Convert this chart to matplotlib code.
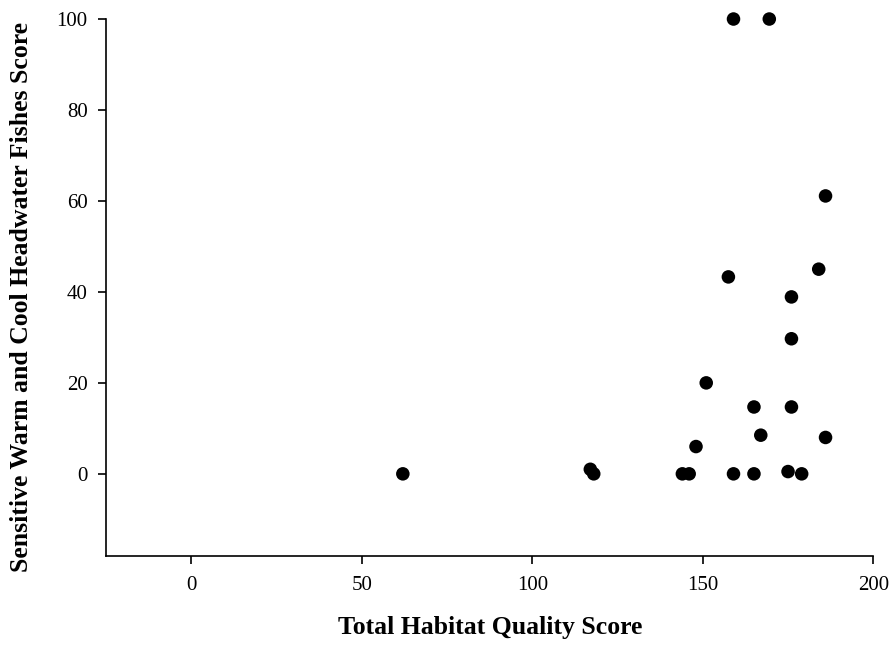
import matplotlib
matplotlib.use("Agg")
import matplotlib.pyplot as plt

# Total habitat quality score vs sensitive warm/cool headwater fishes score
habitat_score = [62, 117, 118, 144, 146, 148, 151, 157.5, 159, 159, 165, 165,
                 167, 169.5, 175, 176, 176, 176, 179, 184, 186, 186]
fish_score = [0, 1, 0, 0, 0, 6, 20, 43.3, 100, 0, 14.7, 0,
              8.5, 100, 0.5, 38.9, 29.7, 14.7, 0, 45, 61.1, 8]

x_ticks = [0, 50, 100, 150, 200]
y_ticks = [0, 20, 40, 60, 80, 100]

plt.rcParams['font.family'] = ['Liberation Serif', 'DejaVu Serif']

fig = plt.figure(figsize=(8.93, 6.47), dpi=100)
ax = fig.add_axes([0.119, 0.1411, 0.8589, 0.8295])

ax.scatter(habitat_score, fish_score, s=95, color='black', edgecolors='none',
           zorder=3, clip_on=False)

ax.set_xlim(-25, 200)
ax.set_ylim(-18, 100)
ax.set_xticks(x_ticks)
ax.set_yticks(y_ticks)

for side in ['top', 'right']:
    ax.spines[side].set_visible(False)
for side in ['left', 'bottom']:
    ax.spines[side].set_linewidth(1.2)

ax.tick_params(axis='both', direction='out', length=6, width=1.2, labelsize=15)
ax.tick_params(axis='x', pad=8.5)
ax.tick_params(axis='y', pad=7.5)

ax.set_xlabel('Total Habitat Quality Score', fontsize=18.5, fontweight='bold', labelpad=15)
ax.set_ylabel('Sensitive Warm and Cool Headwater Fishes Score', fontsize=18.5,
              fontweight='bold', labelpad=17)
ax.yaxis.set_label_coords(-0.0956, 0.482)

fig.savefig('out.png', dpi=100)
